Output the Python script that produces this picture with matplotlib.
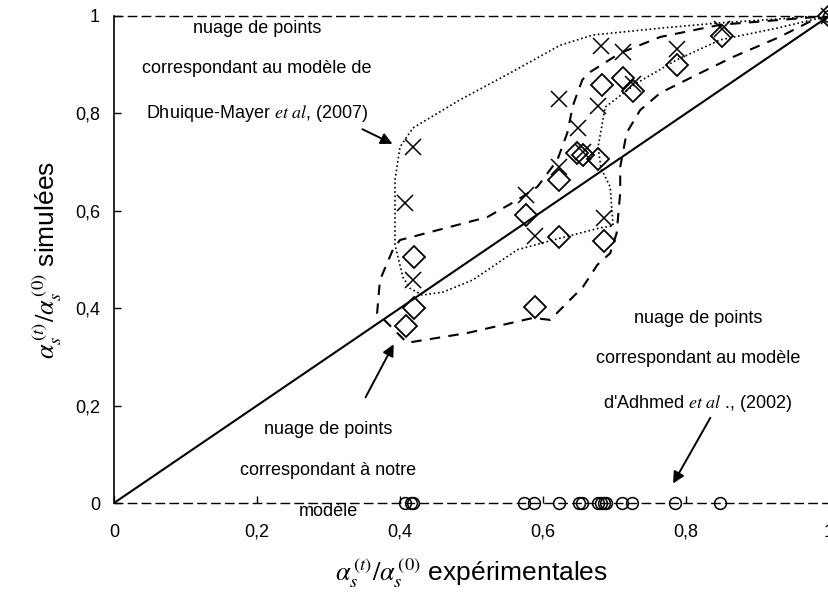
import matplotlib
matplotlib.use("Agg")
import matplotlib.pyplot as plt

plt.rcParams["font.family"] = ["Liberation Sans", "DejaVu Sans"]
plt.rcParams["mathtext.fontset"] = "stix"

# experimental ratios (x) with the three models' simulated ratios (y)
adh_x = [0.407, 0.416, 0.418, 0.573, 0.587, 0.622, 0.651, 0.654, 0.677, 0.681,
         0.685, 0.688, 0.711, 0.725, 0.785, 0.848, 1.0]
adh_y = [0.0] * 16 + [1.0]

dm_x = [0.407, 0.418, 0.418, 0.576, 0.589, 0.623, 0.623, 0.649, 0.656, 0.677,
        0.681, 0.686, 0.712, 0.726, 0.787, 0.850, 1.0]
dm_y = [0.617, 0.730, 0.458, 0.632, 0.548, 0.689, 0.830, 0.769, 0.720, 0.815,
        0.938, 0.585, 0.927, 0.860, 0.932, 0.973, 1.0]

our_x = [0.408, 0.419, 0.419, 0.576, 0.589, 0.623, 0.623, 0.647, 0.656, 0.677,
         0.682, 0.686, 0.712, 0.726, 0.787, 0.850, 1.0]
our_y = [0.364, 0.505, 0.400, 0.591, 0.403, 0.663, 0.546, 0.719, 0.715, 0.706,
         0.858, 0.539, 0.872, 0.847, 0.899, 0.958, 1.0]

# hand-drawn outlines around each cloud
dm_hull_x = [0.999, 0.950, 0.848, 0.764, 0.670, 0.624, 0.554, 0.484, 0.418, 0.400,
             0.393, 0.393, 0.404, 0.414, 0.431, 0.460, 0.502, 0.564, 0.614, 0.680,
             0.698, 0.694, 0.681, 0.677, 0.687, 0.731, 0.787, 0.848, 0.927, 0.999]
dm_hull_y = [1.002, 0.996, 0.986, 0.975, 0.961, 0.940, 0.883, 0.828, 0.770, 0.731,
             0.663, 0.530, 0.464, 0.441, 0.427, 0.433, 0.458, 0.520, 0.540, 0.565,
             0.569, 0.649, 0.688, 0.731, 0.813, 0.862, 0.910, 0.951, 0.975, 1.0]

our_hull_x = [0.999, 0.978, 0.931, 0.866, 0.820, 0.764, 0.736, 0.717, 0.708, 0.708,
              0.703, 0.694, 0.676, 0.656, 0.610, 0.586, 0.494, 0.410, 0.382, 0.368,
              0.372, 0.390, 0.400, 0.522, 0.564, 0.592, 0.620, 0.634, 0.642, 0.655,
              0.666, 0.708, 0.764, 0.848, 0.999]
our_hull_y = [1.0, 0.992, 0.957, 0.916, 0.883, 0.842, 0.807, 0.760, 0.690, 0.637,
              0.554, 0.513, 0.489, 0.444, 0.376, 0.380, 0.349, 0.329, 0.370, 0.390,
              0.458, 0.520, 0.540, 0.587, 0.622, 0.649, 0.704, 0.760, 0.817, 0.869,
              0.885, 0.924, 0.957, 0.982, 1.0]

ticks = [0, 0.2, 0.4, 0.6, 0.8, 1]
tick_labels = ["0", "0,2", "0,4", "0,6", "0,8", "1"]

fig = plt.figure(figsize=(8.29, 5.92), dpi=100)
ax = fig.add_axes([114 / 829, 89 / 592, 715 / 829, 487 / 592])

ax.plot([0, 1], [0, 1], color="black", lw=1.5, zorder=2)
ax.plot(dm_hull_x, dm_hull_y, color="black", ls=(0, (1, 1.6)), lw=1.2, zorder=2)
ax.plot(our_hull_x, our_hull_y, color="black", ls=(0, (5, 4)), lw=1.5, zorder=2)

ax.plot(dm_x, dm_y, ls="none", marker="x", ms=11, mew=1.1, color="black",
        clip_on=False, zorder=3)
ax.plot(our_x, our_y, ls="none", marker="D", ms=11, mew=1.3, mfc="none",
        mec="black", clip_on=False, zorder=3)
ax.plot(adh_x, adh_y, ls="none", marker="o", ms=8.5, mew=1.1, mfc="none",
        mec="black", clip_on=False, zorder=3)

ax.set_xlim(0, 1)
ax.set_ylim(0, 1)
ax.set_xticks(ticks)
ax.set_xticklabels(tick_labels)
ax.set_yticks(ticks)
ax.set_yticklabels(tick_labels)
ax.tick_params(direction="in", length=5, width=1, labelsize=13)
ax.tick_params(axis="x", pad=15)
ax.tick_params(axis="y", pad=10)
ax.spines["right"].set_visible(False)
for side in ("top", "bottom"):
    ax.spines[side].set_linestyle((0, (6, 4)))
    ax.spines[side].set_linewidth(1)
ax.spines["left"].set_linewidth(1.2)

ax.set_xlabel(r"$\alpha_s^{\,(t)}/\alpha_s^{\,(0)}$ expérimentales", fontsize=19, labelpad=11)
ax.set_ylabel(r"$\alpha_s^{\,(t)}/\alpha_s^{\,(0)}$ simulées", fontsize=19, labelpad=8)

txt = dict(fontsize=13, ha="center", va="center", linespacing=2.75)
ax.text(0.20, 0.885, "nuage de points\ncorrespondant au modèle de\n"
        r"Dhuique-Mayer $\it{et\ al}$, (2007)", **txt)
ax.text(0.30, 0.066, "nuage de points\ncorrespondant à notre\nmodèle",
        **dict(txt, linespacing=2.85))
ax.text(0.817, 0.29, "nuage de points\ncorrespondant au modèle\n"
        r"d'Adhmed $\it{et\ al}$ ., (2002)", **txt)

arrow = dict(arrowstyle="-|>", color="black", lw=1.4, mutation_scale=17)
ax.annotate("", xy=(0.393, 0.735), xytext=(0.344, 0.770), arrowprops=arrow)
ax.annotate("", xy=(0.393, 0.331), xytext=(0.350, 0.212), arrowprops=arrow)
ax.annotate("", xy=(0.780, 0.035), xytext=(0.836, 0.180), arrowprops=arrow)

fig.savefig("out.png", dpi=100)
